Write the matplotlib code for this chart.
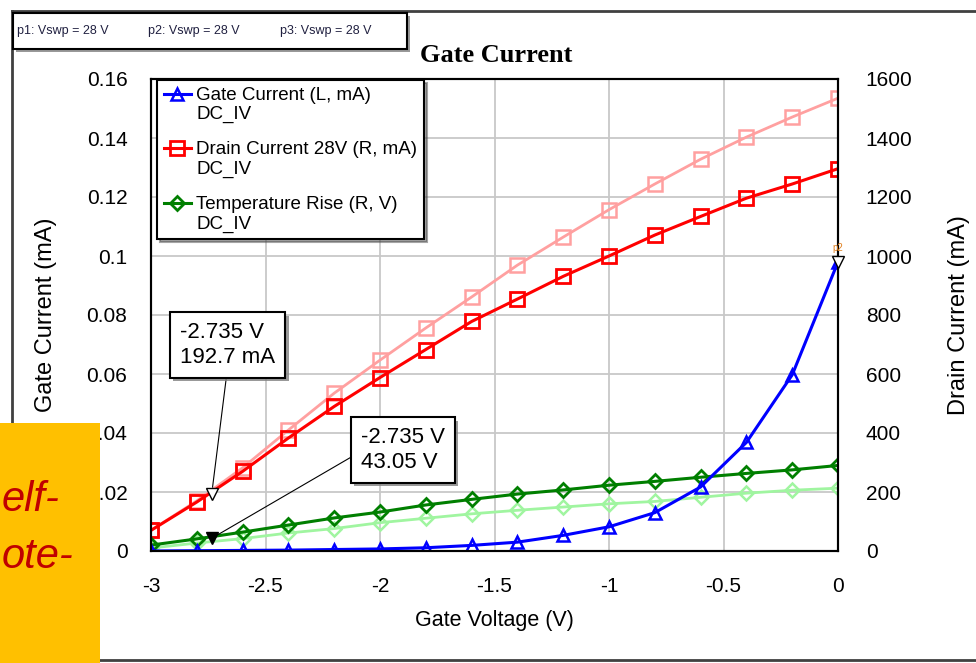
import matplotlib
matplotlib.use("Agg")
import matplotlib.pyplot as plt
from matplotlib.lines import Line2D
from matplotlib.patches import Rectangle
from matplotlib.legend_handler import HandlerLine2D
import matplotlib.patheffects as pe

plt.rcParams['font.family'] = ['Liberation Sans', 'DejaVu Sans']
plt.rcParams['axes.unicode_minus'] = False

# data
gate_voltage = [-3.0, -2.8, -2.6, -2.4, -2.2, -2.0, -1.8, -1.6, -1.4, -1.2, -1.0, -0.8, -0.6, -0.4, -0.2, 0.0]
gate_current = [0.0, 0.0001, 0.0002, 0.0003, 0.0005, 0.0007, 0.0011, 0.0019, 0.003, 0.0053, 0.0082, 0.013, 0.0217, 0.0368, 0.0597, 0.098]
drain_current = [70, 166, 270, 383, 490, 588, 683, 778, 854, 931, 1000, 1071, 1134, 1196, 1244, 1296]
drain_current_ref = [70, 170, 282, 410, 535, 647, 756, 861, 969, 1064, 1157, 1244, 1328, 1403, 1471, 1535]
temp_rise = [20, 41, 64, 88, 112, 132, 156, 175, 193, 207, 223, 236, 250, 263, 275, 290]
temp_rise_ref = [10, 27, 42, 61, 76, 96, 111, 126, 138, 149, 160, 168, 182, 196, 206, 213]

marker_v = -2.735
marker_drain = 192.7
marker_temp = 43.05

x_ticks = [-3, -2.5, -2, -1.5, -1, -0.5, 0]
left_ticks = [0, 0.02, 0.04, 0.06, 0.08, 0.1, 0.12, 0.14, 0.16]
right_ticks = [0, 200, 400, 600, 800, 1000, 1200, 1400, 1600]
sweep_labels = ["p1: Vswp = 28 V", "p2: Vswp = 28 V", "p3: Vswp = 28 V"]

W, H = 976, 663
def fx(px):
    return px / W
def fy(py):
    return 1 - py / H

fig = plt.figure(figsize=(W / 100, H / 100), dpi=100)
fig.patch.set_facecolor('white')

ax2 = fig.add_axes([fx(151), fy(551), fx(838) - fx(151), fy(79) - fy(551)])
ax = ax2.twinx()
# gate axis is drawn on top, grid lives on the drain axis below
ax.set_zorder(ax2.get_zorder() + 1)
ax.patch.set_visible(False)

ax2.plot(gate_voltage, drain_current_ref, color='#FFA0A0', lw=2, marker='s', ms=10, mfc='none', mew=1.8)
ax2.plot(gate_voltage, temp_rise_ref, color='#A0F5A0', lw=2, marker='D', ms=7, mfc='none', mew=1.8)
l_drain, = ax2.plot(gate_voltage, drain_current, color='#FF0000', lw=2.2, marker='s', ms=10, mfc='none', mew=2)
l_temp, = ax2.plot(gate_voltage, temp_rise, color='#007F00', lw=2.2, marker='D', ms=7, mfc='none', mew=2)
l_gate, = ax.plot(gate_voltage, gate_current, color='#0000FF', lw=2.2, marker='^', ms=9, mfc='none', mew=1.8)

# gate current on left, drain on right -> swap sides of the twin
ax.yaxis.tick_left()
ax.yaxis.set_label_position('left')
ax2.yaxis.tick_right()
ax2.yaxis.set_label_position('right')

ax2.set_xlim(-3, 0)
ax.set_ylim(0, 0.16)
ax2.set_ylim(0, 1600)
ax2.set_xticks(x_ticks)
ax2.set_xticklabels(['%g' % v for v in x_ticks])
ax.set_yticks(left_ticks)
ax.set_yticklabels(['%g' % v for v in left_ticks])
ax2.set_yticks(right_ticks)
ax2.set_yticklabels(['%g' % v for v in right_ticks])
ax2.tick_params(axis='x', length=0, pad=19, labelsize=15)
ax.tick_params(axis='y', length=0, pad=17, labelsize=15)
ax2.tick_params(axis='y', length=0, pad=20, labelsize=15)

ax2.grid(True, color='#C8C8C8', lw=1.3)
for a in (ax, ax2):
    for s in a.spines.values():
        s.set_color('black')
        s.set_linewidth(1.5)

ax2.set_xlabel("Gate Voltage (V)", fontsize=15.5)
ax2.xaxis.set_label_coords(0.5, -0.125)
ax.set_ylabel("Gate Current (mA)", fontsize=17)
ax.yaxis.set_label_coords(-0.137, 0.5)
ax2.set_ylabel("Drain Current (mA)", fontsize=17)
ax2.yaxis.set_label_coords(1.16, 0.5)

fig.text(fx(496), fy(55), "Gate Current", family='Liberation Serif', weight='bold',
         fontsize=19, ha='center', va='center')


class FirstLineHandler(HandlerLine2D):
    # put the legend symbol next to the first line of a two-line label
    def create_artists(self, legend, orig_handle, xdescent, ydescent, width, height, fontsize, trans):
        arts = super().create_artists(legend, orig_handle, xdescent, ydescent, width, height, fontsize, trans)
        for a in arts:
            a.set_ydata([y + 0.6 * fontsize for y in a.get_ydata()])
        return arts


leg = ax.legend([l_gate, l_drain, l_temp],
                ["Gate Current (L, mA)\nDC_IV", "Drain Current 28V (R, mA)\nDC_IV", "Temperature Rise (R, V)\nDC_IV"],
                loc='upper left', bbox_to_anchor=((157 - 151) / 687, (551 - 80) / 472),
                borderaxespad=0, fontsize=13.5, fancybox=False, shadow=True, framealpha=1,
                edgecolor='black', borderpad=0.35, handlelength=1.45, handletextpad=0.3,
                labelspacing=0.95, handler_map={Line2D: FirstLineHandler()})
leg.get_frame().set_linewidth(1.5)
leg.set_zorder(20)

# marker readouts
ax2.plot([marker_v], [marker_drain], marker='v', ms=9, mfc='white', mec='black', mew=1, zorder=6)
ax2.plot([marker_v], [marker_temp], marker='v', ms=9, mfc='black', mec='black', mew=1, zorder=6)
shadow = [pe.SimplePatchShadow(offset=(2.5, -2.5), shadow_rgbFace='#808080', alpha=0.8), pe.Normal()]
a1 = ax2.annotate("%.3f V\n%.1f mA" % (marker_v, marker_drain), xy=(marker_v, marker_drain),
                  xytext=(fx(180), fy(345)), textcoords='figure fraction', ha='left', va='center',
                  fontsize=16, linespacing=1.2,
                  bbox=dict(boxstyle='square,pad=0.45', fc='white', ec='black', lw=1.5),
                  arrowprops=dict(arrowstyle='-', color='black', lw=0.8, relpos=(0.5, 0), shrinkA=0, shrinkB=5))
a2 = ax2.annotate("%.3f V\n%.2f V" % (marker_v, marker_temp), xy=(marker_v, marker_temp),
                  xytext=(fx(361), fy(450)), textcoords='figure fraction', ha='left', va='center',
                  fontsize=16, linespacing=1.2,
                  bbox=dict(boxstyle='square,pad=0.45', fc='white', ec='black', lw=1.5),
                  arrowprops=dict(arrowstyle='-', color='black', lw=0.8, relpos=(0, 0.47), shrinkA=0, shrinkB=5))
for a in (a1, a2):
    a.get_bbox_patch().set_path_effects(shadow)
    a.set_zorder(15)

ax.plot([gate_voltage[-1]], [gate_current[-1]], marker='v', ms=9, mfc='white', mec='black', mew=1,
        clip_on=False, zorder=6)
ax.text(gate_voltage[-1], gate_current[-1] + 0.003, "p2", fontsize=7, color='#E08020', ha='center', va='bottom')

# outer frame of the plot window
fig.add_artist(Line2D([fx(12), fx(W + 5)], [fy(11), fy(11)], color='#404040', lw=2))
fig.add_artist(Line2D([fx(12), fx(12)], [fy(11), fy(H + 5)], color='#404040', lw=2))
fig.add_artist(Line2D([fx(0), fx(W + 5)], [fy(660), fy(660)], color='#404040', lw=2))

# sweep header box
hdr = Rectangle((fx(13), fy(49)), fx(407) - fx(13), fy(13) - fy(49), transform=fig.transFigure,
                fc='white', ec='black', lw=1.5, zorder=5)
hdr.set_path_effects(shadow)
fig.add_artist(hdr)
for xp, s in zip([17, 148, 280], sweep_labels):
    fig.text(fx(xp), fy(31), s, fontsize=9, ha='left', va='center', color='#202040', zorder=6)

# slide overlay box in the lower left
fig.add_artist(Rectangle((0, 0), fx(100), fy(423), transform=fig.transFigure, fc='#FFC000', ec='none', zorder=30))
fig.text(fx(2), fy(500), "elf-", fontsize=30, style='italic', color='#C00000', ha='left', va='center', zorder=31)
fig.text(fx(2), fy(557), "ote-", fontsize=30, style='italic', color='#C00000', ha='left', va='center', zorder=31)

fig.savefig("out.png", dpi=100)
